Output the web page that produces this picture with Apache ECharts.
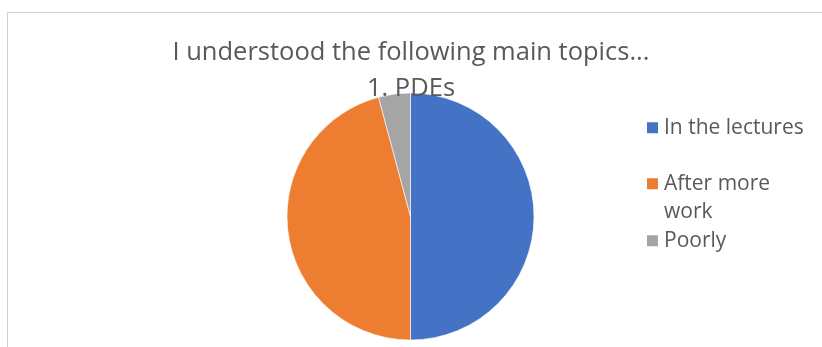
<!DOCTYPE html>
<html><head><meta charset="utf-8">
<script src="https://cdn.jsdelivr.net/npm/echarts@6/dist/echarts.min.js"></script>
<style>html,body{margin:0;padding:0;background:#fff}#c{width:822px;height:347px}</style>
</head><body><div id="c"></div>
<script>
const categories = ['In the lectures', 'After more work', 'Poorly'];
const values = [12, 11, 1];
const colors = ['#4472C4', '#ED7D31', '#A5A5A5'];
const titleLines = ['I understood the following main topics...', '1. PDEs'];

const chart = echarts.init(document.getElementById('c'));
const font = '"Open Sans", sans-serif';
const legendTops = [113.5, 141, 226.5];
const legends = categories.map((name, i) => ({
  data: [name],
  orient: 'vertical',
  left: 645,
  top: legendTops[i],
  padding: 0,
  itemWidth: 13,
  itemHeight: 13,
  itemGap: 5,
  icon: 'rect',
  selectedMode: false,
  formatter: n => n === 'After more work' ? ' \nAfter more\nwork' : n,
  textStyle: { fontFamily: font, fontSize: 21, color: '#595959', lineHeight: 28.5 }
}));

chart.setOption({
  animation: false,
  color: colors,
  title: {
    text: titleLines.join('\n'),
    left: 'center',
    top: 30,
    textStyle: { fontFamily: font, fontSize: 25.5, fontWeight: 'normal', color: '#595959', lineHeight: 35.5 }
  },
  graphic: [{
    type: 'rect', shape: { x: 7.5, y: 12.5, width: 830, height: 350 },
    style: { fill: 'none', stroke: '#d0d0d0', lineWidth: 1 }, silent: true, z: -1
  }],
  legend: legends,
  series: [{
    type: 'pie',
    center: [410.5, 216.5],
    radius: 123.5,
    startAngle: 90,
    clockwise: true,
    label: { show: false },
    labelLine: { show: false },
    itemStyle: { borderColor: '#fff', borderWidth: 0.6 },
    data: categories.map((n, i) => ({ name: n, value: values[i] }))
  }]
});
</script></body></html>
